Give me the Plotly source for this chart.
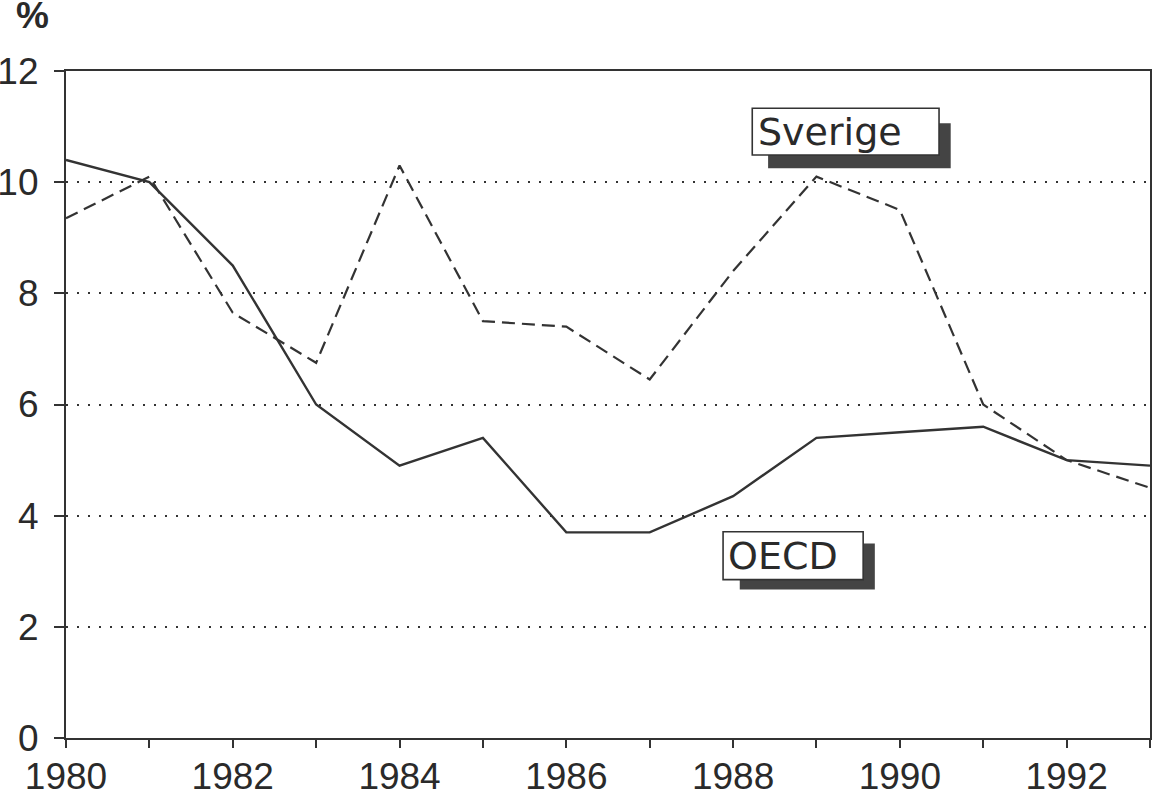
import plotly.graph_objects as go

years = list(range(1980, 1994))
oecd = [10.4, 10.0, 8.5, 6.0, 4.9, 5.4, 3.7, 3.7, 4.35, 5.4, 5.5, 5.6, 5.0, 4.9]
sverige = [9.35, 10.1, 7.65, 6.75, 10.3, 7.5, 7.4, 6.45, 8.4, 10.1, 9.5, 6.0, 5.0, 4.5]
x_tick_labels = [str(y) if y % 2 == 0 else "" for y in years]
y_ticks = [0, 2, 4, 6, 8, 10, 12]

INK = "#333333"
TEXT = "#2a2a2a"
TICK_FONT = "Liberation Sans"
LABEL_FONT = "DejaVu Sans"

fig = go.Figure()
fig.add_trace(go.Scatter(x=years, y=sverige, mode="lines", name="Sverige",
                         line=dict(color=INK, width=2.2, dash="13px,7px")))
fig.add_trace(go.Scatter(x=years, y=oecd, mode="lines", name="OECD",
                         line=dict(color=INK, width=2.4)))

# label boxes with drop shadow
boxes = [
    ("Sverige", (1988.23, 1990.47, 10.49, 11.33), (1988.42, 1990.61, 10.25, 11.06)),
    ("OECD", (1987.88, 1989.56, 2.85, 3.71), (1988.08, 1989.70, 2.67, 3.50)),
]
for text, (bx0, bx1, by0, by1), (sx0, sx1, sy0, sy1) in boxes:
    fig.add_shape(type="rect", xref="x", yref="y", x0=sx0, x1=sx1, y0=sy0, y1=sy1,
                  fillcolor="#444444", line=dict(width=0), layer="above")
    fig.add_shape(type="rect", xref="x", yref="y", x0=bx0, x1=bx1, y0=by0, y1=by1,
                  fillcolor="white", line=dict(color=INK, width=1.6), layer="above")
    fig.add_annotation(x=bx0 + 0.04, y=(by0 + by1) / 2, xref="x", yref="y",
                       text=text, showarrow=False, xanchor="left", yanchor="middle",
                       font=dict(family=LABEL_FONT, size=38, color=TEXT))

fig.add_annotation(x=-0.048, y=1.0825, xref="paper", yref="paper", text="<b>%</b>",
                   showarrow=False, xanchor="left", yanchor="middle",
                   font=dict(family=TICK_FONT, size=37, color=TEXT))

fig.update_layout(
    width=1154, height=794,
    margin=dict(l=66, r=4, t=71, b=56),
    paper_bgcolor="white", plot_bgcolor="white",
    showlegend=False,
    font=dict(family=TICK_FONT, size=37, color=TEXT),
)
fig.update_xaxes(range=[1980, 1993], tickmode="array", tickvals=years, ticktext=x_tick_labels,
                 ticks="outside", ticklen=8, tickwidth=2, tickcolor=INK,
                 showline=True, linecolor=INK, linewidth=2.2, mirror=True,
                 showgrid=False, zeroline=False, ticklabelstandoff=-4, automargin=False)
fig.update_yaxes(range=[0, 12], tickmode="array", tickvals=y_ticks,
                 ticks="outside", ticklen=10, tickwidth=2, tickcolor=INK,
                 showline=True, linecolor=INK, linewidth=2.2, mirror=True,
                 showgrid=True, gridcolor=INK, gridwidth=2, griddash="2px,9px",
                 zeroline=False, ticklabelstandoff=8, automargin=False)

fig.write_html("out.html", config={"displayModeBar": False},
               post_script="document.body.style.margin='0';")
